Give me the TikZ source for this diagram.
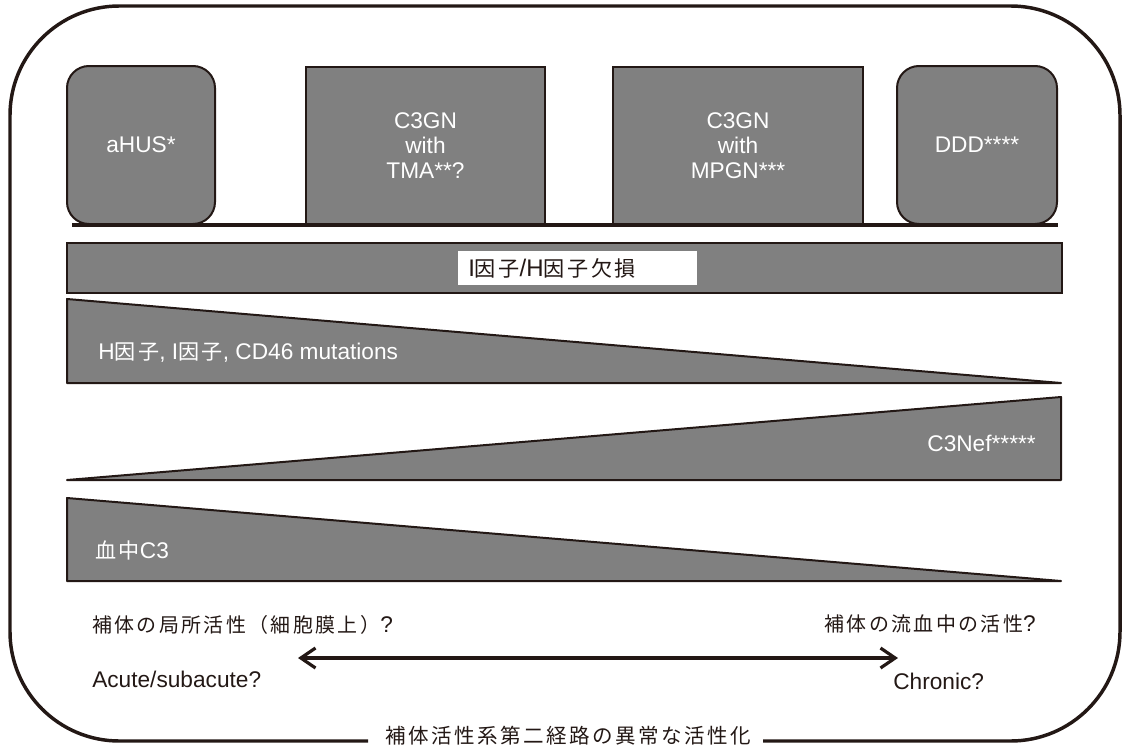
\documentclass[tikz,border=0pt]{standalone}
\usepackage{fontspec}
\setmainfont{Liberation Sans}
\newfontfamily\jpfont[Scale=0.88,LetterSpace=12]{Noto Sans CJK JP}
\newfontfamily\jpwfont[Scale=0.93,LetterSpace=12]{Noto Sans CJK JP}
\newcommand{\J}[1]{{\jpfont #1}}
\newcommand{\Jw}[1]{{\jpwfont #1}}
\usetikzlibrary{arrows.meta}
\definecolor{ink}{RGB}{35,24,21}
\definecolor{boxgray}{RGB}{128,128,128}
\tikzset{
  gbox/.style={draw=ink, fill=boxgray, line width=1.5pt, text=white, align=center,
    inner sep=0pt, minimum height=118.5pt, font=\fontsize{17pt}{18.75pt}\selectfont},
  rbox/.style={gbox, rounded corners=16.5pt},
  tri/.style={draw=ink, fill=boxgray, line width=1.5pt, line join=round},
  wtext/.style={text=white, inner sep=0pt, font=\fontsize{17pt}{19pt}\selectfont},
  btext/.style={text=ink, inner sep=0pt, font=\fontsize{17pt}{19pt}\selectfont},
  frame/.style={draw=ink, line width=2.6pt, rounded corners=82pt},
}
\begin{document}
\begin{tikzpicture}[x=0.75pt,y=-0.75pt]
\useasboundingbox (0,0) rectangle (1123,746);
% outer frame with gap for label
\node[btext, font=\fontsize{17.5pt}{20pt}\selectfont] (title) at (568,736) {\J{補体活性系第二経路の異常な活性化}};
\coordinate (fl) at (368,741);
\coordinate (fr) at (763,741);
\draw[frame] (fl) -- (10,741) -- (10,6) -- (1120,6) -- (1120,741) -- (fr);
% top boxes
\node[rbox, minimum width=111pt] (ahus) at (141,145) {aHUS*};
\node[gbox, minimum width=179.25pt] (tma) at (425.5,146) {C3GN\\with\\TMA**?};
\node[gbox, minimum width=187.5pt] (mpgn) at (738,146) {C3GN\\with\\MPGN***};
\node[rbox, minimum width=120pt] (ddd) at (977,145) {DDD****};
\coordinate (bl) at (72,225);
\coordinate (br) at (1058,225);
\draw[ink, line width=2.6pt] (bl) -- (br);
% deficiency bar
\node[gbox, minimum width=746.25pt, minimum height=37.5pt] (bar) at (564,268) {};
\node[fill=white, text=ink, anchor=west, minimum width=179.25pt, minimum height=25.5pt,
  inner xsep=7.5pt, inner ysep=0pt, text width=164.25pt, align=left,
  font=\fontsize{18pt}{20pt}\selectfont] (deflabel) at (458,268) {I\J{因子}/H\J{因子欠損}};
% triangles
\draw[tri] (67,299) -- (67,383) -- (1061,383) -- cycle;
\node[wtext, anchor=west] (hmut) at (98,353) {H\Jw{因子}, I\Jw{因子}, CD46 mutations};
\draw[tri] (67,480) -- (1061,480) -- (1061,397) -- cycle;
\node[wtext, anchor=east] (c3nef) at (1036,443) {C3Nef*****};
\draw[tri] (67,498) -- (67,581) -- (1061,581) -- cycle;
\node[wtext, anchor=west] (c3) at (95,550) {\Jw{血中}C3};
% bottom texts
\node[btext, anchor=west] (local) at (92,625) {\J{補体の局所活性（細胞膜上）}?};
\node[btext, anchor=west] (acute) at (92,679) {Acute/subacute?};
\node[btext, anchor=east] (blood) at (1036,624) {\J{補体の流血中の活性}?};
\node[btext, anchor=west] (chronic) at (893,681) {Chronic?};
\coordinate (aL) at (298,658);
\coordinate (aR) at (898,658);
\draw[ink, line width=2.4pt, {Straight Barb[length=11pt,width=15pt]}-{Straight Barb[length=11pt,width=15pt]}] (aL) -- (aR);
\end{tikzpicture}
\end{document}
